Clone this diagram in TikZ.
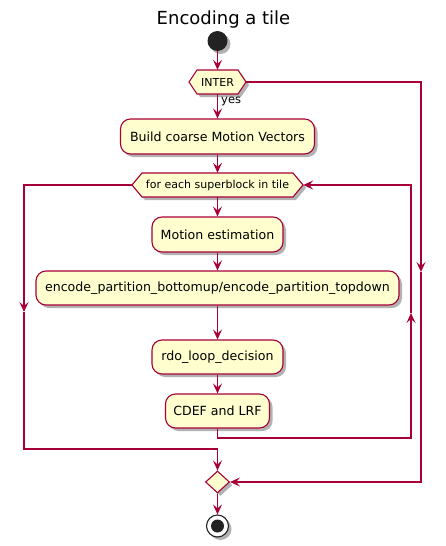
\documentclass[tikz,border=0pt]{standalone}
\usepackage{fontspec}
\setmainfont{DejaVu Sans}
\usetikzlibrary{arrows.meta,shapes.geometric,shadows}
\definecolor{pline}{HTML}{A80036}
\definecolor{pfill}{HTML}{FEFECE}
\definecolor{pdark}{HTML}{222222}
\tikzset{
 shadowed/.style={drop shadow={shadow xshift=3pt,shadow yshift=-3pt,opacity=0.3,fill=black}},
 actbox/.style={draw=pline,fill=pfill,line width=1.1pt,rounded corners=10pt,inner sep=0pt,font=\fontsize{12.6}{15}\selectfont,shadowed},
 hexbox/.style={draw=pline,fill=pfill,line width=1.1pt,shadowed},
 hextext/.style={inner sep=0pt,font=\fontsize{11}{13}\selectfont},
 flow/.style={draw=pline,line width=1.1pt},
 arr/.style={flow,-{Stealth[length=10pt,width=9pt,inset=4pt]}},
}
\begin{document}
\begin{tikzpicture}[x=1pt,y=-1pt]
\useasboundingbox (0,0) rectangle (446,546);
\node[font=\fontsize{18}{22}\selectfont] (title) at (223.5,20) {Encoding a tile};
\node[circle,fill=pdark,minimum size=20pt,inner sep=0pt,shadowed] (start) at (217.5,41) {};
% INTER hexagon
\draw[hexbox] (189,82) -- (197,70) -- (238,70) -- (246,82) -- (238,94) -- (197,94) -- cycle;
\node[hextext,minimum width=57pt,minimum height=24pt] (inter) at (217.5,82) {INTER};
\node[actbox,minimum width=194pt,minimum height=35pt] (build) at (217.5,136.5) {Build coarse Motion Vectors};
% loop hexagon
\draw[hexbox] (132,185) -- (142,173) -- (293,173) -- (303,185) -- (293,197) -- (142,197) -- cycle;
\node[hextext,minimum width=171pt,minimum height=24pt] (sb) at (217.5,185) {for each superblock in tile};
\node[actbox,minimum width=131pt,minimum height=35pt] (me) at (217.5,234.5) {Motion estimation};
\node[actbox,minimum width=363pt,minimum height=34pt] (enc) at (217.5,288) {encode\_partition\_bottomup/encode\_partition\_topdown};
\node[actbox,minimum width=131pt,minimum height=34pt] (rdo) at (217.5,357) {rdo\_loop\_decision};
\node[actbox,minimum width=104pt,minimum height=34pt] (cdef) at (217.5,411) {CDEF and LRF};
\node[diamond,draw=pline,fill=pfill,line width=1.1pt,minimum width=24pt,minimum height=22pt,inner sep=0pt,shadowed] (merge) at (217.5,482) {};
\node[circle,draw=pdark,fill=white,line width=1.1pt,minimum size=22pt,inner sep=0pt,shadowed] (stop) at (217.5,526) {};
\fill[pdark] (stop.center) circle (6.5pt);
% straight arrows
\draw[arr] (start) -- (inter.north);
\draw[arr] (inter.south) -- (build.north);
\node[font=\fontsize{11.5}{13}\selectfont,anchor=west,inner sep=0pt] (yes) at (221,101) {yes};
\draw[arr] (build.south) -- (sb.north);
\draw[arr] (sb.south) -- (me.north);
\draw[arr] (me.south) -- (enc.north);
\draw[arr] (enc.south) -- (rdo.north);
\draw[arr] (rdo.south) -- (cdef.north);
\draw[arr] (merge.south) -- (stop.north);
% INTER no-branch
\coordinate (ir1) at (421,82);
\coordinate (ir2) at (421,272);
\coordinate (ir3) at (421,482);
\draw[arr] (inter.east) -- (ir1) -- (ir2);
\draw[arr] (ir2) -- (ir3) -- (merge.east);
% loop exit
\coordinate (ll1) at (24,185);
\coordinate (ll2) at (24,312);
\coordinate (ll3) at (24,449);
\coordinate (ll4) at (217.5,449);
\draw[arr] (sb.west) -- (ll1) -- (ll2);
\draw[arr] (ll2) -- (ll3) -- (ll4) -- (merge.north);
% loop back
\coordinate (rl1) at (217.5,438);
\coordinate (rl2) at (411,438);
\coordinate (rl3) at (411,313);
\coordinate (rl4) at (411,185);
\draw[arr] (cdef.south) -- (rl1) -- (rl2) -- (rl3);
\draw[arr] (rl3) -- (rl4) -- (sb.east);
\end{tikzpicture}
\end{document}
